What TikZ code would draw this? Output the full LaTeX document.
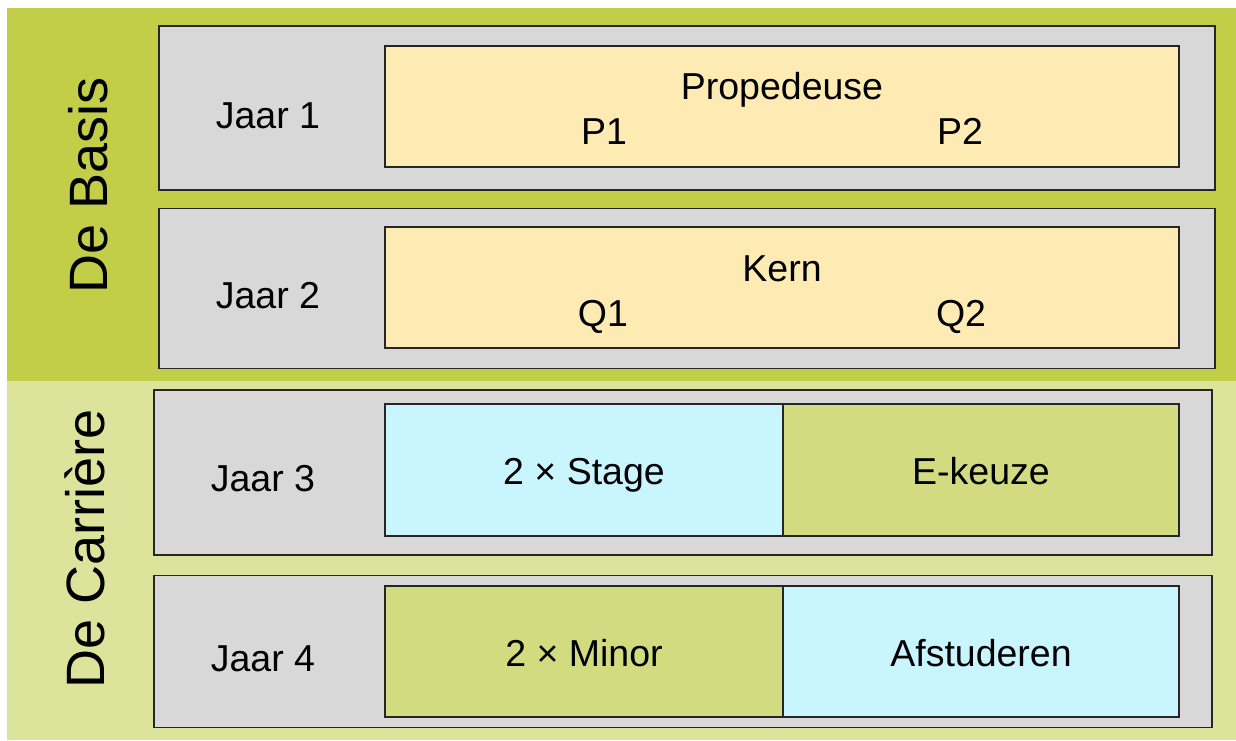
\documentclass[tikz,border=0pt]{standalone}
\usepackage{fontspec}
\setmainfont{Liberation Sans}
\definecolor{dkgreen}{HTML}{C2CD48}
\definecolor{ltgreen}{HTML}{DCE49C}
\definecolor{yeargray}{HTML}{D8D8D8}
\definecolor{pyellow}{HTML}{FEEBB4}
\definecolor{pcyan}{HTML}{C8F5FE}
\definecolor{polive}{HTML}{D3DB80}
\tikzset{
  yearbox/.style={draw=black!85, line width=1.6pt, fill=yeargray, rectangle, inner sep=0pt, outer sep=0pt},
  partbox/.style={draw=black!85, line width=1.3pt, rectangle, inner sep=0pt, outer sep=0pt},
  lbl/.style={anchor=base, inner sep=0pt, font=\fontsize{37.5}{40}\selectfont},
  side/.style={anchor=base, rotate=90, inner sep=0pt, font=\fontsize{54}{58}\selectfont},
}
\begin{document}
\begin{tikzpicture}[x=1pt, y=-1pt]
\useasboundingbox (0,0) rectangle (1236,740);
% bands
\fill[dkgreen] (7,8) rectangle (1236,381);
\fill[ltgreen] (7,381) rectangle (1236,740);
\node[side] (basis) at (107,185) {De Basis};
\node[side] (carriere) at (104,549) {De Carrière};
% year boxes
\node[yearbox, minimum width=1056pt, minimum height=164pt] (j1) at (687,108) {};
\node[yearbox, minimum width=1056pt, minimum height=160pt] (j2) at (687,288.5) {};
\node[yearbox, minimum width=1058pt, minimum height=165pt] (j3) at (683,472.5) {};
\node[yearbox, minimum width=1058pt, minimum height=152pt] (j4) at (683,651.5) {};
% year labels
\node[lbl] (t1) at (268,128) {Jaar 1};
\node[lbl] (t2) at (268,308) {Jaar 2};
\node[lbl] (t3) at (263,491) {Jaar 3};
\node[lbl] (t4) at (263,671) {Jaar 4};
% parts
\node[partbox, fill=pyellow, minimum width=794pt, minimum height=121pt] (prop) at (782,106.5) {};
\node[lbl] (propt) at (782,99) {Propedeuse};
\node[lbl] (p1) at (604,144) {P1};
\node[lbl] (p2) at (960,144) {P2};
\node[partbox, fill=pyellow, minimum width=794pt, minimum height=121pt] (kern) at (782,287.5) {};
\node[lbl] (kernt) at (782,281) {Kern};
\node[lbl] (q1) at (603,326) {Q1};
\node[lbl] (q2) at (961,326) {Q2};
\node[partbox, fill=pcyan, minimum width=398pt, minimum height=132pt] (stage) at (584,470) {};
\node[partbox, fill=polive, minimum width=396pt, minimum height=132pt] (ekeuze) at (981,470) {};
\node[lbl] (staget) at (584,484) {2 × Stage};
\node[lbl] (ekeuzet) at (981,484) {E-keuze};
\node[partbox, fill=polive, minimum width=398pt, minimum height=131pt] (minor) at (584,651.5) {};
\node[partbox, fill=pcyan, minimum width=396pt, minimum height=131pt] (afst) at (981,651.5) {};
\node[lbl] (minort) at (584,666) {2 × Minor};
\node[lbl] (afstt) at (981,666) {Afstuderen};
\end{tikzpicture}
\end{document}
